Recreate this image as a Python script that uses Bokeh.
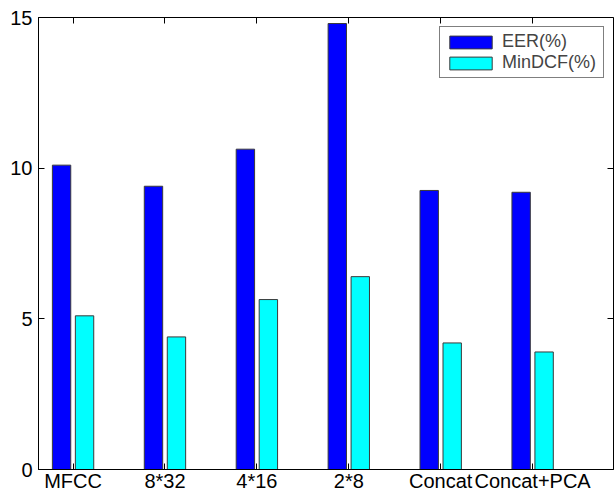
from bokeh.plotting import figure
from bokeh.models import (ColumnDataSource, Range1d, FixedTicker, LinearAxis, Legend,
                          LegendItem, CustomLabelingPolicy)
from bokeh.transform import dodge
from bokeh.embed import file_html
from bokeh.resources import INLINE

categories = ["MFCC", "8*32", "4*16", "2*8", "Concat", "Concat+PCA"]
eer = [10.1, 9.4, 10.63, 14.8, 9.26, 9.2]
mindcf = [5.1, 4.4, 5.64, 6.4, 4.2, 3.9]
series_names = ["EER(%)", "MinDCF(%)"]
y_ticks = [0, 5, 10, 15]

FONT = "Liberation Sans"
pos = list(range(1, len(categories) + 1))
src = ColumnDataSource(dict(x=pos, eer=eer, mindcf=mindcf))

xr = Range1d(0.624, 6.88)
yr = Range1d(0, 15)
p = figure(width=615, height=494, output_backend="svg", toolbar_location=None,
           x_range=xr, y_range=yr,
           min_border_left=38, min_border_right=2, min_border_top=17, min_border_bottom=0,
           x_axis_location=None, y_axis_location=None)
p.grid.visible = False
p.outline_line_color = "black"
p.outline_line_width = 1
p.background_fill_color = "white"
p.border_fill_color = "white"

r1 = p.vbar(x=dodge("x", -0.125), top="eer", width=0.2, source=src,
            fill_color="#0000FF", line_color="#3a3a3a", line_width=1)
r2 = p.vbar(x=dodge("x", 0.125), top="mindcf", width=0.2, source=src,
            fill_color="#00FFFF", line_color="#3a3a3a", line_width=1)

def make_axis(ticks, labels=True, overrides=None):
    ax = LinearAxis(ticker=FixedTicker(ticks=ticks))
    ax.major_tick_in = 6
    ax.major_tick_out = 0
    ax.minor_tick_in = 0
    ax.minor_tick_out = 0
    ax.minor_tick_line_color = None
    ax.axis_line_color = "black"
    ax.major_tick_line_color = "black"
    if labels:
        ax.major_label_text_font = FONT
        ax.major_label_text_font_size = "20px"
        ax.major_label_text_color = "black"
    else:
        ax.major_label_text_font_size = "1px"
        ax.major_label_standoff = 0
        ax.major_label_policy = CustomLabelingPolicy(code="return []")
    if overrides:
        ax.major_label_overrides = overrides
    return ax

xb = make_axis(pos, True, {i: c for i, c in zip(pos, categories)})
xb.major_label_standoff = 0
p.add_layout(xb, "below")
yl = make_axis(y_ticks, True)
yl.major_label_standoff = 6
p.add_layout(yl, "left")

xt = make_axis(pos, False)
xt.fixed_location = yr.end
p.add_layout(xt, "above")
yrt = make_axis(y_ticks, False)
yrt.fixed_location = xr.end
p.add_layout(yrt, "right")

legend = Legend(items=[LegendItem(label=series_names[0], renderers=[r1]),
                       LegendItem(label=series_names[1], renderers=[r2])],
                location="top_right")
legend.margin = 9
legend.padding = 4
legend.spacing = 0
legend.glyph_width = 53
legend.glyph_height = 16
legend.label_height = 16
legend.label_width = 97
legend.label_standoff = 5
legend.label_text_font = FONT
legend.label_text_font_size = "18px"
legend.border_line_color = "black"
legend.border_line_width = 1
legend.background_fill_color = "white"
legend.background_fill_alpha = 1
p.add_layout(legend, "center")

open("out.html", "w").write(file_html(p, INLINE))
